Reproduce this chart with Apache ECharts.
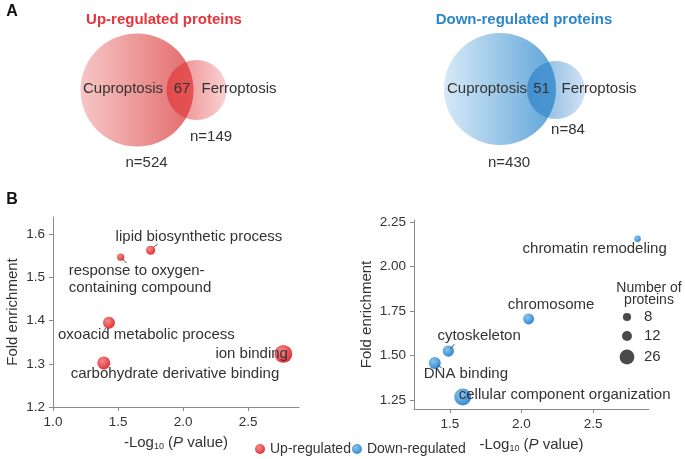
<!DOCTYPE html>
<html>
<head>
<meta charset="utf-8">
<script src="https://cdn.jsdelivr.net/npm/echarts@6/dist/echarts.min.js"></script>
<style>
    html, body { margin: 0; padding: 0; background: #fff; }
    #chart { width: 685px; height: 459px; }
</style>
</head>
<body>
<div id="chart"></div>
<script>
    // Venn counts
    var vennNames = ['Cuproptosis', 'Ferroptosis'];
    var upSets = [524, 149];
    var upOverlap = 67;
    var downSets = [430, 84];
    var downOverlap = 51;

    // GO terms, up-regulated
    var upTerms = ['lipid biosynthetic process', 'response to oxygen-\ncontaining compound',
        'oxoacid metabolic process', 'ion binding', 'carbohydrate derivative binding'];
    var upLogP = [1.75, 1.52, 1.43, 2.77, 1.39];
    var upFold = [1.563, 1.547, 1.395, 1.323, 1.302];
    var upCount = [10, 6, 17, 38, 20];

    // GO terms, down-regulated
    var downTerms = ['chromatin remodeling', 'chromosome', 'cytoskeleton', 'DNA binding',
        'cellular component organization'];
    var downLogP = [2.81, 2.05, 1.49, 1.395, 1.59];
    var downFold = [2.155, 1.705, 1.525, 1.458, 1.267];
    var downCount = [5, 14, 15, 17, 34];

    var sizeLegend = [8, 12, 26];

    // axis ticks
    var upXTicks = [1.0, 1.5, 2.0, 2.5];
    var upYTicks = [1.2, 1.3, 1.4, 1.5, 1.6];
    var downXTicks = [1.5, 2.0, 2.5];
    var downYTicks = [1.25, 1.5, 1.75, 2.0, 2.25];

    var FONT = 'Liberation Sans, Arial, Helvetica, sans-serif';
    var TEXT = '#333';
    var AXIS = '#8a8a8a';

    function dotSize(n) {
        return 2.9 * Math.sqrt(n);
    }

    var redBall = {
        type: 'radial', x: 0.38, y: 0.35, r: 0.7,
        colorStops: [{offset: 0, color: '#f68a8a'}, {offset: 1, color: '#de3035'}]
    };
    var blueBall = {
        type: 'radial', x: 0.38, y: 0.35, r: 0.7,
        colorStops: [{offset: 0, color: '#8cc4ec'}, {offset: 1, color: '#2f87cf'}]
    };

    function linear(c0, c1) {
        return {
            type: 'linear', x: 0, y: 0, x2: 1, y2: 0,
            colorStops: [{offset: 0, color: c0}, {offset: 1, color: c1}]
        };
    }

    // venn layout (pixels in the hidden top grid)
    var vennLayout = [
        {big: [137, 90], small: [196.5, 90], d: [113, 60],
            bigFill: linear('#f7c6c6', '#e36a6b'), smallFill: linear('rgba(222,40,44,0.62)', 'rgba(232,70,72,0.25)')},
        {big: [500, 89], small: [556, 90], d: [112, 58],
            bigFill: linear('#d6e9f7', '#5ea4d8'), smallFill: linear('rgba(30,118,194,0.62)', 'rgba(60,140,210,0.25)')}
    ];

    // label offsets [dx, dy] from the dot centre to the label's left/middle
    var upLabelOffsets = [[-35, -13], [-52, 22], [-51, 12], [-68, 0], [-33, 11]];
    var downLabelOffsets = [[-115, 10], [-21, -14], [-11, -15], [-11, 11], [-4, -2]];
    // short leader lines, pixel offsets from dot centre [x1, y1, x2, y2]
    var upLeaders = [[3, -3, 7, -6], [2, 2, 6, 6], [-3, 5, -5, 8], null, null];
    var downLeaders = [null, null, [2, -2, 6, -7], [3, 2, 7, 5], null];

    function termData(xs, ys, ns, terms) {
        return xs.map(function(x, i) {
            return {value: [x, ys[i], ns[i]], name: terms[i]};
        });
    }

    function termSeries(name, xs, ys, ns, terms, color, offsets, idx) {
        return {
            name: name,
            type: 'scatter',
            xAxisIndex: idx,
            yAxisIndex: idx,
            data: termData(xs, ys, ns, terms),
            symbolSize: function(v) { return dotSize(v[2]); },
            itemStyle: {color: color, opacity: 1},
            label: {
                show: true,
                position: 'inside',
                align: 'left',
                verticalAlign: 'middle',
                formatter: '{b}',
                color: TEXT,
                textBorderWidth: 0,
                textBorderColor: 'transparent',
                fontSize: 15,
                lineHeight: 17,
                fontFamily: FONT
            },
            labelLayout: function(p) {
                var o = offsets[p.dataIndex];
                return {dx: o[0], dy: o[1]};
            },
            z: 3
        };
    }

    function leaderSeries(xs, ys, leaders, idx) {
        return {
            type: 'custom',
            xAxisIndex: idx,
            yAxisIndex: idx,
            silent: true,
            encode: {x: 0, y: 1},
            data: xs.map(function(x, i) { return [x, ys[i], i]; }),
            renderItem: function(params, api) {
                var l = leaders[api.value(2)];
                if (!l) return null;
                var p = api.coord([api.value(0), api.value(1)]);
                return {
                    type: 'line',
                    shape: {x1: p[0] + l[0], y1: p[1] + l[1], x2: p[0] + l[2], y2: p[1] + l[3]},
                    style: {stroke: '#444', lineWidth: 0.9}
                };
            },
            z: 4
        };
    }

    var axisNameRich = {
        sub: {fontSize: 9, fontFamily: FONT, color: TEXT, padding: [8, 0, 0, 0]},
        it: {fontSize: 15, fontFamily: FONT, color: TEXT, fontStyle: 'italic'}
    };

    function valueAxis(gridIndex, min, max, ticks, digits, extra) {
        var ax = {
            type: 'value',
            gridIndex: gridIndex,
            min: min,
            max: max,
            splitLine: {show: false},
            axisLine: {show: true, lineStyle: {color: AXIS, width: 1}},
            axisTick: {show: true, length: 4, customValues: ticks, lineStyle: {color: AXIS}},
            axisLabel: {
                customValues: ticks,
                color: TEXT,
                fontSize: 13.5,
                fontFamily: FONT,
                formatter: function(v) { return v.toFixed(digits); }
            },
            nameLocation: 'middle',
            nameTextStyle: {color: TEXT, fontSize: 15, fontFamily: FONT, rich: axisNameRich}
        };
        for (var k in extra) ax[k] = extra[k];
        return ax;
    }

    var vennSeries = [];
    vennLayout.forEach(function(v, i) {
        vennSeries.push({
            type: 'scatter',
            xAxisIndex: 0,
            yAxisIndex: 0,
            silent: true,
            data: [
                {value: v.big, symbolSize: v.d[0], itemStyle: {color: v.bigFill, opacity: 1}},
                {value: v.small, symbolSize: v.d[1], itemStyle: {color: v.smallFill, opacity: 1}}
            ],
            z: 1
        });
    });

    function vtext(x, y, text, extra) {
        var st = {text: text, x: 0, y: 0, align: 'center', verticalAlign: 'middle',
            fontSize: 15, fontFamily: FONT, fill: TEXT};
        for (var k in extra) st[k] = extra[k];
        return {type: 'text', x: x, y: y, style: st, z: 10};
    }

    var graphics = [
        vtext(12, 12, 'A', {fontWeight: 'bold', fontSize: 16, fill: '#111'}),
        vtext(12, 200, 'B', {fontWeight: 'bold', fontSize: 16, fill: '#111'}),
        vtext(164, 20, 'Up-regulated proteins', {fontWeight: 'bold', fill: '#e8333b'}),
        vtext(524, 20, 'Down-regulated proteins', {fontWeight: 'bold', fill: '#2d86c9'}),
        vtext(123, 89, vennNames[0]),
        vtext(182, 89, String(upOverlap)),
        vtext(239, 89, vennNames[1]),
        vtext(211, 137, 'n=' + upSets[1]),
        vtext(146.5, 163, 'n=' + upSets[0]),
        vtext(487, 89, vennNames[0]),
        vtext(541.5, 89, String(downOverlap)),
        vtext(599, 89, vennNames[1]),
        vtext(568, 130, 'n=' + downSets[1]),
        vtext(509, 163, 'n=' + downSets[0]),
        vtext(649, 288, 'Number of', {fontSize: 14}),
        vtext(649, 300, 'proteins', {fontSize: 14})
    ];
    var legendY = [317, 336, 357];
    sizeLegend.forEach(function(n, i) {
        graphics.push({type: 'circle', x: 627, y: legendY[i], shape: {cx: 0, cy: 0, r: dotSize(n) / 2},
            style: {fill: '#4a4a4a'}, z: 10});
        graphics.push(vtext(644, legendY[i], String(n), {align: 'left', fontSize: 15}));
    });

    var option = {
        backgroundColor: '#fff',
        animation: false,
        textStyle: {fontFamily: FONT},
        grid: [
            {left: 0, top: 0, width: 685, height: 180},
            {left: 53, top: 217, width: 246, height: 190},
            {left: 414, top: 220, width: 235, height: 189}
        ],
        xAxis: [
            {type: 'value', gridIndex: 0, min: 0, max: 685, show: false},
            valueAxis(1, 1.0, 2.89, upXTicks, 1, {
                name: '-Log{sub|10} ({it|P} value)', nameGap: 27
            }),
            valueAxis(2, 1.25, 2.89, downXTicks, 1, {
                name: '-Log{sub|10} ({it|P} value)', nameGap: 27
            })
        ],
        yAxis: [
            {type: 'value', gridIndex: 0, min: 0, max: 180, inverse: true, show: false},
            valueAxis(1, 1.2, 1.64, upYTicks, 1, {
                name: 'Fold enrichment', nameGap: 33
            }),
            valueAxis(2, 1.2, 2.26, downYTicks, 2, {
                name: 'Fold enrichment', nameGap: 40
            })
        ],
        legend: {
            data: ['Up-regulated', 'Down-regulated'],
            left: 250,
            top: 437,
            icon: 'circle',
            itemWidth: 10,
            itemHeight: 10,
            itemGap: 1,
            textStyle: {color: TEXT, fontSize: 14, fontFamily: FONT}
        },
        graphic: graphics,
        series: vennSeries.concat([
            termSeries('Up-regulated', upLogP, upFold, upCount, upTerms, redBall, upLabelOffsets, 1),
            termSeries('Down-regulated', downLogP, downFold, downCount, downTerms, blueBall, downLabelOffsets, 2),
            leaderSeries(upLogP, upFold, upLeaders, 1),
            leaderSeries(downLogP, downFold, downLeaders, 2)
        ])
    };

    var myChart = echarts.init(document.getElementById('chart'));
    myChart.setOption(option);
</script>
</body>
</html>
